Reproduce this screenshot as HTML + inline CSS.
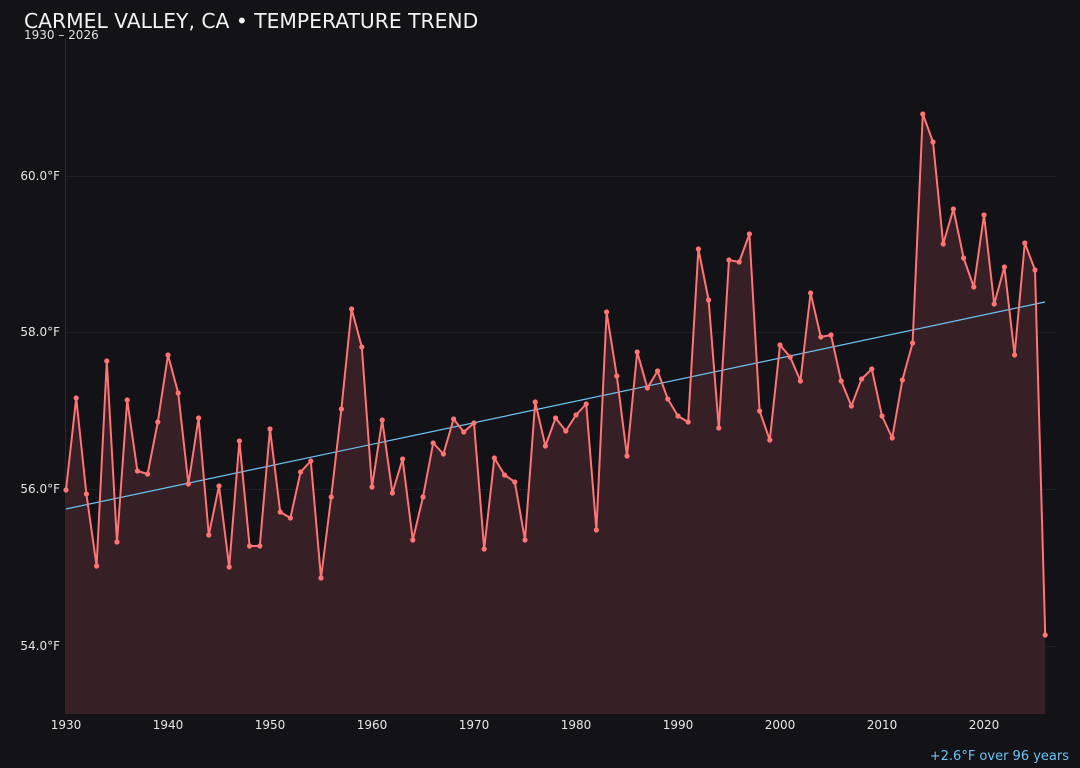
<!DOCTYPE html>
<html><head><meta charset="utf-8"><style>
html,body{margin:0;padding:0;background:#131217;}
svg{display:block;font-family:"DejaVu Sans","Liberation Sans",sans-serif;}
</style></head><body>
<svg id="c" width="1080" height="768" viewBox="0 0 1080 768" xmlns="http://www.w3.org/2000/svg">
<rect width="1080" height="768" fill="#131217"/>
<g stroke="#1e1d23" stroke-width="1">
<line x1="66" y1="176.5" x2="1056" y2="176.5"/>
<line x1="66" y1="332.5" x2="1056" y2="332.5"/>
<line x1="66" y1="489.5" x2="1056" y2="489.5"/>
<line x1="66" y1="646.5" x2="1056" y2="646.5"/>
</g>
<line x1="65.5" y1="38" x2="65.5" y2="714" stroke="#2a2930" stroke-width="1"/>
<text x="24" y="28" fill="#f2f2f2" font-size="20.3">CARMEL VALLEY, CA • TEMPERATURE TREND</text>
<text x="24" y="39" fill="#e0e0e0" font-size="12">1930 – 2026</text>
<g fill="#e6e6e6" font-size="12" text-anchor="end">
<text x="60" y="180">60.0°F</text>
<text x="60" y="336">58.0°F</text>
<text x="60" y="493">56.0°F</text>
<text x="60" y="650">54.0°F</text>
</g>
<g fill="#e6e6e6" font-size="12" text-anchor="middle">
<text x="66" y="729">1930</text>
<text x="168" y="729">1940</text>
<text x="270" y="729">1950</text>
<text x="372" y="729">1960</text>
<text x="474" y="729">1970</text>
<text x="576" y="729">1980</text>
<text x="678" y="729">1990</text>
<text x="780" y="729">2000</text>
<text x="882" y="729">2010</text>
<text x="984" y="729">2020</text>
</g>
<text x="1069" y="760" fill="#6cc4f5" font-size="13" text-anchor="end">+2.6°F over 96 years</text>
<g id="plot"></g>
</svg>
<script>
var ys=[490,398,494,566,361,542,400,471,474,422,355,393,484,418,535,486,567,441,546,546,429,512,518,472,461,578,497,409,309,347,487,420,493,459,540,497,443,454,419,432,423,549,458,475,482,540,402,446,418,431,415,404,530,312,376,456,352,388,371,399,416,422,249,300,428,260,262,234,411,440,345,357,381,293,337,335,381,406,379,369,416,438,380,343,114,142,244,209,258,287,215,304,267,355,243,270,635];
var ns="http://www.w3.org/2000/svg",g=document.getElementById("plot");
var pts=ys.map(function(y,i){return (66+10.2*i).toFixed(1)+","+y;});
function el(t,a){var e=document.createElementNS(ns,t);for(var k in a)e.setAttribute(k,a[k]);g.appendChild(e);return e;}
el("polygon",{points:"66,714 "+pts.join(" ")+" 1045.2,714",fill:"#361f25"});
el("line",{x1:66,y1:509,x2:1045,y2:302,stroke:"#6cc4f5","stroke-width":1.2});
el("polyline",{points:pts.join(" "),fill:"none",stroke:"#ff7474","stroke-width":2,"stroke-linejoin":"round"});
ys.forEach(function(y,i){el("circle",{cx:66+10.2*i,cy:y,r:2.6,fill:"#ff7474"});});
</script>
</body></html>
